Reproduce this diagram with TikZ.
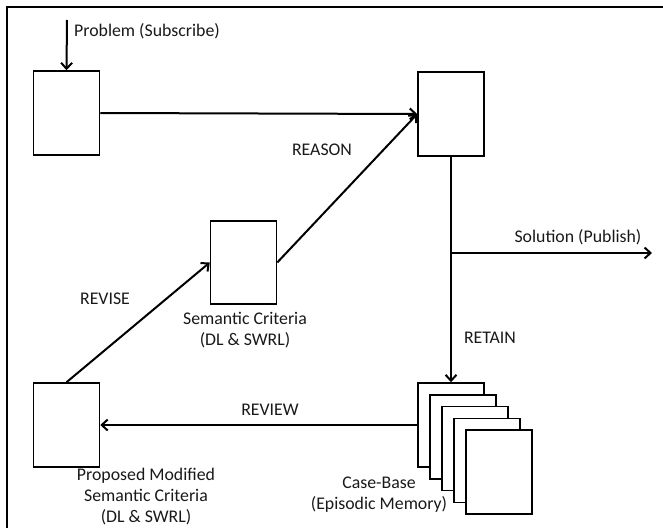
\documentclass[tikz,border=0pt]{standalone}
\usepackage{fontspec}
\setmainfont{Carlito}
\usetikzlibrary{arrows.meta}
\begin{document}
\begin{tikzpicture}[x=1pt,y=-1pt,
  every node/.style={font=\fontsize{17.8}{21}\selectfont, text=black!90},
  blockbox/.style={draw, line width=1.5pt, fill=white, minimum width=66pt, minimum height=84pt, inner sep=0pt},
  flow/.style={line width=2pt, -{Straight Barb[length=6pt,width=11pt,line width=2pt]}},
  caption/.style={align=center, inner sep=0pt}]
\useasboundingbox (0,0) rectangle (663,527);
% outer frame (only top and left edges fall inside the page)
\draw[line width=2pt] (7,540) -- (7,7) -- (680,7);

% main blocks
\node[blockbox] (A) at (66.5,113) {};
\node[blockbox] (B) at (451,114) {};
\node[blockbox, minimum height=83pt] (C) at (243.5,262.5) {};
\node[blockbox] (D) at (66.5,425) {};

% case-base: a stack of five pages
\node[blockbox] (P1) at (451,425) {};
\node[blockbox] (P2) at (463,436.75) {};
\node[blockbox] (P3) at (475,448.5) {};
\node[blockbox] (P4) at (487,460.25) {};
\node[blockbox] (P5) at (499,472) {};

% free ends
\coordinate (in) at (67,20);
\coordinate (branch) at (452,253);
\coordinate (out) at (652,253);

% connectors
\draw[flow] (in) -- (A.north);
\draw[flow] (A.east) -- (B.west);
\draw[flow] (C.east) -- (B.west);
\draw[flow] (D.north) -- (C.west);
\draw[flow] (B.south) -- (P1.north);
\draw[flow] (branch) -- (out);
\draw[flow] (P1.west) -- (D.east);

% labels
\node[anchor=west, inner sep=0pt] (lprob) at (74,31) {Problem (Subscribe)};
\node[inner sep=0pt] (lreason) at (322,150) {REASON};
\node[inner sep=0pt] (lrevise) at (105,299) {REVISE};
\node[inner sep=0pt] (lsol) at (578,237) {Solution (Publish)};
\node[inner sep=0pt] (lretain) at (490,338) {RETAIN};
\node[inner sep=0pt] (lreview) at (270,410) {REVIEW};
\node[caption] (lsem) at (245,330) {Semantic Criteria\\(DL \& SWRL)};
\node[caption] (lprop) at (146,497) {Proposed Modified\\Semantic Criteria\\(DL \& SWRL)};
\node[caption] (lcase) at (379,494.5) {Case-Base\\(Episodic Memory)};
\end{tikzpicture}
\end{document}
